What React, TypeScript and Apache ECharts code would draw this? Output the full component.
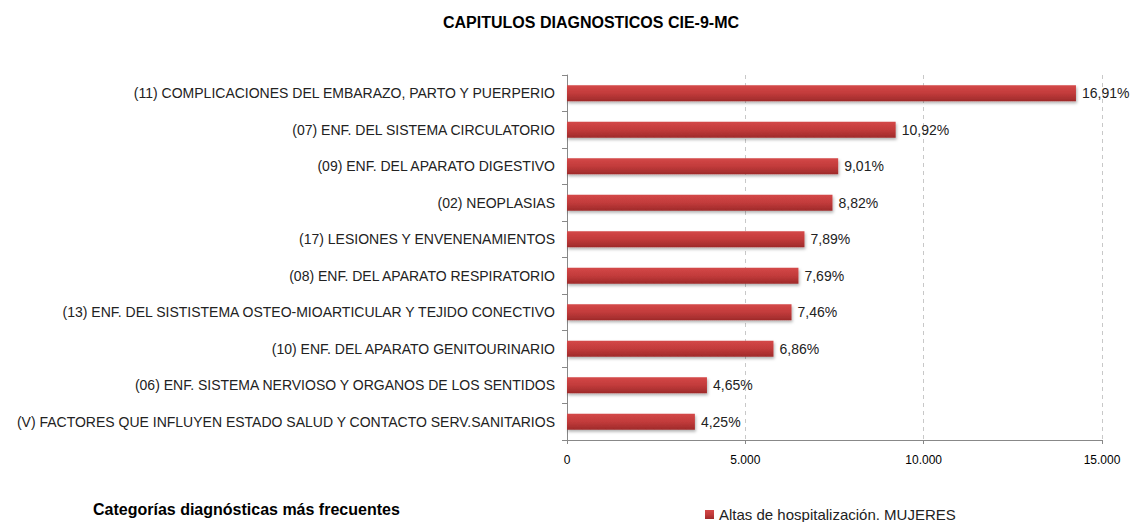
import React, { useEffect, useRef } from "react";
import * as echarts from "echarts";

const categories = [
  "(11) COMPLICACIONES DEL EMBARAZO, PARTO Y PUERPERIO",
  "(07) ENF. DEL SISTEMA CIRCULATORIO",
  "(09) ENF. DEL APARATO DIGESTIVO",
  "(02) NEOPLASIAS",
  "(17) LESIONES Y ENVENENAMIENTOS",
  "(08) ENF. DEL APARATO RESPIRATORIO",
  "(13) ENF. DEL SISTISTEMA OSTEO-MIOARTICULAR Y TEJIDO CONECTIVO",
  "(10) ENF. DEL APARATO GENITOURINARIO",
  "(06) ENF. SISTEMA NERVIOSO Y ORGANOS DE LOS SENTIDOS",
  "(V) FACTORES QUE INFLUYEN ESTADO SALUD Y CONTACTO SERV.SANITARIOS",
];
const values = [14270, 9215, 7603, 7443, 6658, 6489, 6295, 5789, 3924, 3586];
const percentLabels = ["16,91%", "10,92%", "9,01%", "8,82%", "7,89%", "7,69%", "7,46%", "6,86%", "4,65%", "4,25%"];
const xTicks = [0, 5000, 10000, 15000];
const seriesName = "Altas de hospitalización. MUJERES";
const footerText = "Categorías diagnósticas más frecuentes";
const titleText = "CAPITULOS DIAGNOSTICOS CIE-9-MC";

export default function App() {
  const ref = useRef<HTMLDivElement>(null);
  useEffect(() => {
    document.body.style.margin = "0";
    if (!ref.current) return;
    const chart = echarts.init(ref.current, null, { renderer: "svg" });
    const font = "'Liberation Sans', Arial, sans-serif";
    chart.setOption({
      animation: false,
      backgroundColor: "#ffffff",
      textStyle: { fontFamily: font },
      title: {
        text: titleText,
        left: 586,
        top: 9,
        textAlign: "center",
        textStyle: { fontSize: 16, fontWeight: "bold", color: "#000", fontFamily: font },
      },
      legend: {
        data: [seriesName],
        left: 700,
        top: 502,
        icon: "rect",
        itemWidth: 9,
        itemHeight: 9,
        itemGap: 8,
        textStyle: { fontSize: 15, color: "#222", fontFamily: font },
      },
      graphic: [
        {
          type: "text",
          left: 93,
          top: 501,
          style: { text: footerText, font: `bold 16px ${font}`, fill: "#000" },
        },
      ],
      grid: { left: 567, right: 37, top: 75, height: 365, containLabel: false },
      xAxis: {
        type: "value",
        min: 0,
        max: 15000,
        interval: 5000,
        axisLine: { show: true, lineStyle: { color: "#888" } },
        axisTick: { show: true, length: 4, lineStyle: { color: "#888" } },
        axisLabel: {
          fontSize: 12,
          color: "#000",
          margin: 14,
          fontFamily: font,
          formatter: (v: number) => (xTicks.includes(v) ? v.toLocaleString("de-DE") : ""),
        },
        splitLine: { show: true, lineStyle: { color: "#c8c8c8", type: [4, 4] } },
      },
      yAxis: {
        type: "category",
        inverse: true,
        data: categories,
        axisLine: { show: true, lineStyle: { color: "#888" } },
        axisTick: { show: true, length: 5, lineStyle: { color: "#888" } },
        axisLabel: { fontSize: 14, color: "#222", margin: 12, fontFamily: font },
        splitLine: { show: false },
      },
      series: [
        {
          name: seriesName,
          type: "bar",
          data: values,
          barWidth: 16,
          itemStyle: {
            color: new echarts.graphic.LinearGradient(0, 0, 0, 1, [
              { offset: 0, color: "#d44848" },
              { offset: 0.5, color: "#c23b3b" },
              { offset: 1, color: "#9e2a2a" },
            ]),
            shadowColor: "rgba(0,0,0,0.3)",
            shadowBlur: 3,
            shadowOffsetX: 1,
            shadowOffsetY: 2,
          },
          label: {
            show: true,
            position: "right",
            distance: 6,
            fontSize: 14,
            color: "#222",
            fontFamily: font,
            formatter: (p: any) => percentLabels[p.dataIndex],
          },
        },
      ],
    });
    return () => chart.dispose();
  }, []);
  return <div ref={ref} style={{ width: 1139, height: 522 }} />;
}
